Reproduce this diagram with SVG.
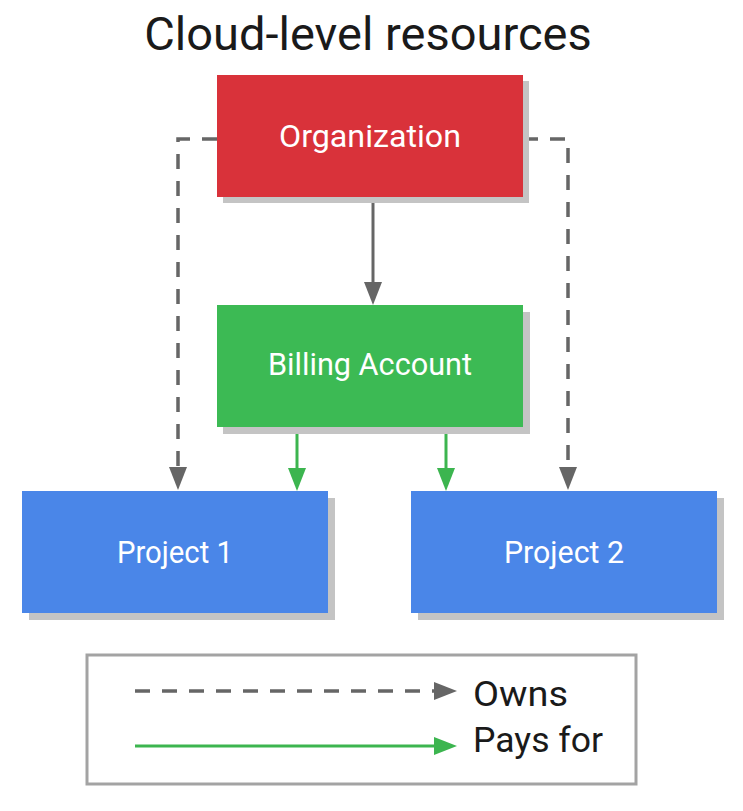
<svg xmlns="http://www.w3.org/2000/svg" width="743" height="811" viewBox="0 0 743 811">
  <style>
    .title { font-family: Roboto, "Liberation Sans", sans-serif; font-size: 47px; fill: #1a1a1a; }
    .lbl { font-family: Roboto, "Liberation Sans", sans-serif; font-size: 32px; fill: #ffffff; text-anchor: middle; }
    .leg { font-family: Roboto, "Liberation Sans", sans-serif; font-size: 35px; fill: #1a1a1a; }
    .shadow { fill: #c4c4c4; }
    .own { fill: none; stroke: #666666; stroke-width: 3.5; stroke-dasharray: 15 12; }
    .solid { fill: none; stroke: #666666; stroke-width: 3; }
    .pay { fill: none; stroke: #3cb54f; stroke-width: 3; }
  </style>
  <defs>
    <marker id="ahGray" viewBox="0 0 23 18" refX="15" refY="9" markerWidth="23" markerHeight="18" markerUnits="userSpaceOnUse" orient="auto">
      <path d="M0,0 L23,9 L0,18 Z" fill="#666666"/>
    </marker>
    <marker id="ahGreen" viewBox="0 0 23 18" refX="15" refY="9" markerWidth="23" markerHeight="18" markerUnits="userSpaceOnUse" orient="auto">
      <path d="M0,0 L23,9 L0,18 Z" fill="#3cb54f"/>
    </marker>
  </defs>
  <rect width="743" height="811" fill="#ffffff"/>

  <text class="title" x="368" y="50" text-anchor="middle">Cloud-level resources</text>

  <g id="connectors">
    <path class="own" d="M217,139 H178 V482" marker-end="url(#ahGray)"/>
    <path class="own" d="M523,139 H568 V482" marker-end="url(#ahGray)"/>
    <path class="solid" d="M373,197 V297" marker-end="url(#ahGray)"/>
    <path class="pay" d="M297,427 V483" marker-end="url(#ahGreen)"/>
    <path class="pay" d="M446,427 V483" marker-end="url(#ahGreen)"/>
  </g>

  <g id="organization">
    <rect class="shadow" x="223" y="81" width="306" height="122"/>
    <rect x="217" y="75" width="306" height="122" fill="#d9323a"/>
    <text class="lbl" x="370" y="147" textLength="182" lengthAdjust="spacingAndGlyphs">Organization</text>
  </g>

  <g id="billing-account">
    <rect class="shadow" x="223" y="312" width="307" height="122"/>
    <rect x="217" y="305" width="306" height="122" fill="#3cba54"/>
    <text class="lbl" x="370" y="375" textLength="204" lengthAdjust="spacingAndGlyphs">Billing Account</text>
  </g>

  <g id="project-1">
    <rect class="shadow" x="29" y="498" width="306" height="122"/>
    <rect x="22" y="491" width="306" height="122" fill="#4a86e8"/>
    <text class="lbl" x="175" y="563" textLength="116" lengthAdjust="spacingAndGlyphs">Project 1</text>
  </g>

  <g id="project-2">
    <rect class="shadow" x="418" y="498" width="306" height="122"/>
    <rect x="411" y="491" width="306" height="122" fill="#4a86e8"/>
    <text class="lbl" x="564" y="563" textLength="120" lengthAdjust="spacingAndGlyphs">Project 2</text>
  </g>

  <g id="legend">
    <rect x="87" y="655" width="549" height="129" fill="#ffffff" stroke="#a3a3a3" stroke-width="3"/>
    <path class="own" d="M135,691 H449" marker-end="url(#ahGray)"/>
    <path class="pay" d="M135,746 H449" marker-end="url(#ahGreen)"/>
    <text class="leg" x="473" y="706" textLength="95" lengthAdjust="spacingAndGlyphs">Owns</text>
    <text class="leg" x="473" y="752" textLength="130" lengthAdjust="spacingAndGlyphs">Pays for</text>
  </g>
</svg>
